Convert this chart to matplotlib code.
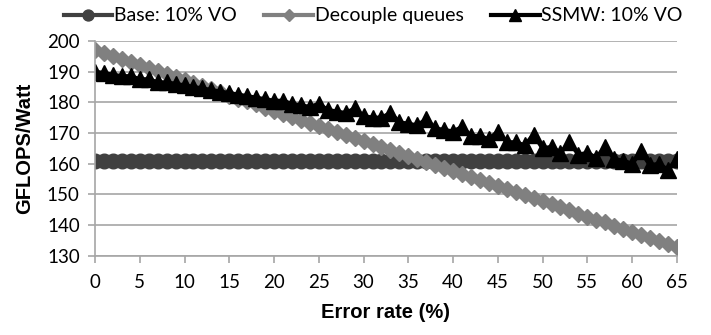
import matplotlib.pyplot as plt

# error rate (%) 0..65
error_rate = list(range(66))

base = [161] * 66

decouple = [197.0, 196.0, 195.0, 194.0, 193.1, 192.1, 191.1, 190.1, 189.1, 188.1,
            187.2, 186.2, 185.2, 184.2, 183.2, 182.2, 181.2, 180.3, 179.3, 178.3,
            177.3, 176.3, 175.3, 174.3, 173.4, 172.4, 171.4, 170.4, 169.4, 168.4,
            167.5, 166.5, 165.5, 164.5, 163.5, 162.5, 161.5, 160.6, 159.6, 158.6,
            157.6, 156.6, 155.6, 154.6, 153.7, 152.7, 151.7, 150.7, 149.7, 148.7,
            147.8, 146.8, 145.8, 144.8, 143.8, 142.8, 141.8, 140.9, 139.9, 138.9,
            137.9, 136.9, 135.9, 134.9, 134.0, 133.0]

ssmw = [190, 189.5, 189, 188.5, 188.5, 187.5, 187.5, 186.5, 186.5, 186,
        185.5, 185, 184.5, 184, 183.5, 183, 182.5, 182, 181.5, 181,
        180.5, 180.5, 179.5, 179, 178.5, 179.5, 177.5, 177, 176.5, 178,
        175.5, 175, 175, 176.5, 173.5, 173, 172.5, 174.5, 171.5, 171,
        170.5, 172, 169, 169, 168, 170.5, 167, 167, 166, 169.5,
        165, 165.5, 163.5, 167, 163, 163.5, 162, 165.5, 161.5, 161,
        160, 164, 159.5, 160, 158, 161.5]

fig = plt.figure(figsize=(7.11, 3.35), dpi=100)
ax = fig.add_axes([0.1336, 0.236, 0.8184, 0.642])

ax.plot(error_rate, base, color="#404040", marker="o", markersize=10.5, lw=3, label="Base: 10% VO")
ax.plot(error_rate, decouple, color="#808080", marker="D", markersize=8.5, lw=3, label="Decouple queues")
ax.plot(error_rate, ssmw, color="black", marker="^", markersize=11, lw=3, label="SSMW: 10% VO")

ax.set_xlim(0, 65)
ax.set_ylim(130, 200)
ax.set_xticks(range(0, 66, 5))
ax.set_yticks(range(130, 201, 10))
ax.yaxis.grid(True, color="#a6a6a6", lw=1.2)
ax.set_axisbelow(True)
for s in ["top", "right"]:
    ax.spines[s].set_visible(False)
for s in ["left", "bottom"]:
    ax.spines[s].set_color("#a6a6a6")
    ax.spines[s].set_linewidth(1.2)
ax.tick_params(axis="both", color="#a6a6a6", length=5, width=1.2, labelsize=13.5)
ax.tick_params(axis="x", pad=8)
ax.tick_params(axis="y", pad=6)
for lab in ax.get_xticklabels() + ax.get_yticklabels():
    lab.set_family("Lato")

ax.set_xlabel("Error rate (%)", fontsize=14.5, fontweight="bold", family="Liberation Sans", labelpad=9)
ax.set_ylabel("GFLOPS/Watt", fontsize=14.5, fontweight="bold", family="Liberation Sans", labelpad=9)

fig.legend(loc="upper center", bbox_to_anchor=(0.525, 1.03), ncol=3, frameon=False,
           prop={"family": "Lato", "size": 14}, handlelength=2.5, handletextpad=0.1,
           columnspacing=1.4, markerscale=0.75)

plt.savefig("out.png", dpi=100)
